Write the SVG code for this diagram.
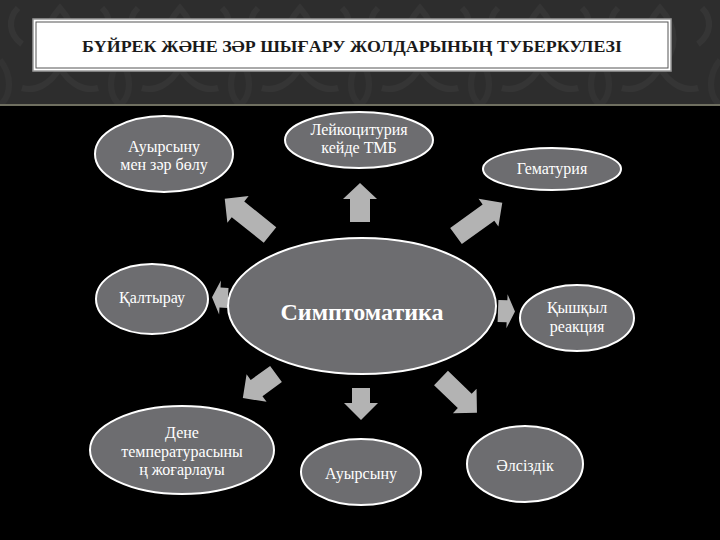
<svg xmlns="http://www.w3.org/2000/svg" width="720" height="540" viewBox="0 0 720 540">
  <defs>
    <pattern id="damask" x="0" y="0" width="120" height="105" patternUnits="userSpaceOnUse">
      <rect width="120" height="105" fill="#2d2d2d"/>
      <path d="M60 8 C42 28 42 50 60 68 C78 50 78 28 60 8 Z M60 68 C50 84 36 92 22 88 M60 68 C70 84 84 92 98 88 M22 44 C8 34 8 18 18 8 M98 44 C112 34 112 18 102 8" fill="none" stroke="#353535" stroke-width="6"/>
      <path d="M0 60 C12 75 12 95 0 105 M120 60 C108 75 108 95 120 105" fill="none" stroke="#333333" stroke-width="6"/>
    </pattern>
    <style>
      .node ellipse { fill: #6d6d70; stroke: #ffffff; stroke-width: 2; }
      .node text { fill: #ffffff; font-family: "Liberation Serif", "Times New Roman", "DejaVu Serif", serif; font-size: 16px; text-anchor: middle; }
      .arrow { fill: #b3b3b3; }
      .title { fill: #1a1a1a; font-family: "Liberation Serif", "Times New Roman", serif; font-weight: bold; font-size: 17px; text-anchor: middle; }
    </style>
  </defs>

  <!-- background -->
  <rect x="0" y="0" width="720" height="540" fill="#000000"/>
  <rect x="0" y="0" width="720" height="105" fill="url(#damask)"/>
  <rect x="0" y="104" width="720" height="2" fill="#6f6f60"/>

  <!-- title box -->
  <g id="title">
    <rect x="33" y="19" width="638" height="52" fill="#ffffff" stroke="#9a9a9a" stroke-width="1.5"/>
    <rect x="36" y="22" width="632" height="46" fill="none" stroke="#555555" stroke-width="1"/>
    <text class="title" x="352" y="52" textLength="540" lengthAdjust="spacingAndGlyphs">БҮЙРЕК ЖӘНЕ ЗӘР ШЫҒАРУ ЖОЛДАРЫНЫҢ ТУБЕРКУЛЕЗІ</text>
  </g>

  <!-- connectors -->
  <g id="connectors">
    <polygon class="arrow" transform="translate(270,235) rotate(218.7)" points="0,-10 41,-10 41,-17 58,0 41,17 41,10 0,10"/>
    <polygon class="arrow" transform="translate(360,222) rotate(-90)" points="0,-10 23,-10 23,-17 39,0 23,17 23,10 0,10"/>
    <polygon class="arrow" transform="translate(456,236) rotate(-35.7)" points="0,-10 40,-10 40,-17 57,0 40,17 40,10 0,10"/>
    <polygon class="arrow" transform="translate(228,298) rotate(183)" points="0,-10 8,-10 8,-17 16,0 8,17 8,10 0,10"/>
    <polygon class="arrow" transform="translate(498,311) rotate(2)" points="0,-11 9,-11 9,-17 17,0 9,17 9,11 0,11"/>
    <polygon class="arrow" transform="translate(276,374) rotate(144)" points="0,-10 24,-10 24,-17 41,0 24,17 24,10 0,10"/>
    <polygon class="arrow" transform="translate(361,388) rotate(90)" points="0,-9 15,-9 15,-17 32,0 15,17 15,9 0,9"/>
    <polygon class="arrow" transform="translate(441,378) rotate(44)" points="0,-10 33,-10 33,-17 50,0 33,17 33,10 0,10"/>
  </g>

  <!-- nodes -->
  <g id="center" class="node">
    <ellipse cx="362" cy="306" rx="134" ry="68"/>
    <text x="362" y="320" style="font-size:24px;font-weight:bold">Симптоматика</text>
  </g>
  <g id="pain-urine" class="node">
    <ellipse cx="164" cy="154" rx="69" ry="38"/>
    <text x="164" y="152">Ауырсыну</text>
    <text x="164" y="170">мен зәр бөлу</text>
  </g>
  <g id="leuko" class="node">
    <ellipse cx="359" cy="140" rx="74" ry="28"/>
    <text x="359" y="135">Лейкоцитурия</text>
    <text x="359" y="153">кейде ТМБ</text>
  </g>
  <g id="hematuria" class="node">
    <ellipse cx="552" cy="169" rx="69" ry="21"/>
    <text x="552" y="174">Гематурия</text>
  </g>
  <g id="chills" class="node">
    <ellipse cx="152" cy="299" rx="56" ry="35"/>
    <text x="152" y="303">Қалтырау</text>
  </g>
  <g id="acid" class="node">
    <ellipse cx="577" cy="318" rx="57" ry="33"/>
    <text x="577" y="313">Қышқыл</text>
    <text x="577" y="332">реакция</text>
  </g>
  <g id="temperature" class="node">
    <ellipse cx="182" cy="450" rx="92" ry="44"/>
    <text x="182" y="438">Дене</text>
    <text x="182" y="457">температурасыны</text>
    <text x="182" y="475">ң жоғарлауы</text>
  </g>
  <g id="pain" class="node">
    <ellipse cx="361" cy="472" rx="60" ry="33"/>
    <text x="361" y="479">Ауырсыну</text>
  </g>
  <g id="weakness" class="node">
    <ellipse cx="525" cy="464" rx="58" ry="38"/>
    <text x="525" y="471">Әлсіздік</text>
  </g>
</svg>
